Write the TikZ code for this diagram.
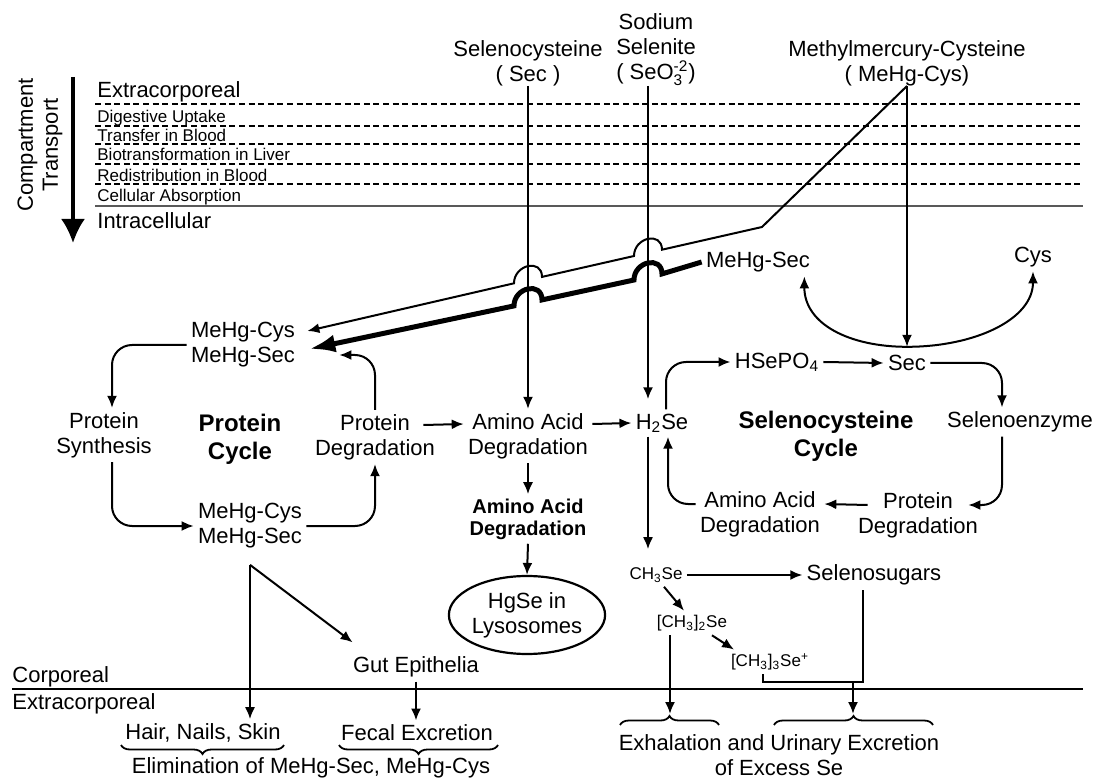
\documentclass[tikz,border=0pt]{standalone}
\usepackage{amsmath}
\usepackage{fontspec}
\setmainfont{Liberation Sans}
\usepackage{tikz}
\usetikzlibrary{shapes,arrows,arrows.meta,positioning,decorations.pathreplacing}

\tikzset{
  lbl/.style={align=center,inner sep=2pt,font=\fontsize{11}{12.5}\selectfont},
  small/.style={inner sep=2pt,font=\fontsize{8.5}{10}\selectfont},
  cyc/.style={align=center,inner sep=2pt,font=\fontsize{12}{14}\selectfont\bfseries},
  layer/.style={anchor=base west,inner sep=0pt,font=\fontsize{8.5}{10}\selectfont},
  flow/.style={->,line width=1pt},
  heavy/.style={-{Latex[length=13pt,width=9pt]},line width=2.5pt},
  sep/.style={line width=1pt,dash pattern=on 3pt off 1.8pt},
  brc/.style={decorate,decoration={brace,amplitude=4.5pt},line width=0.9pt},
}

\begin{document}
\begin{tikzpicture}[x=0.5pt,y=-0.5pt,>={Latex[length=6pt,width=5pt]}]
  \useasboundingbox (0,0) rectangle (1100,781);

  % compartments, top to bottom
  \node (comp) at (40,145) [lbl,rotate=90] {Compartment\\Transport};
  \coordinate (ctop) at (73,77);
  \coordinate (cbot) at (73,243);
  \draw[-{Latex[length=12pt,width=12pt]},line width=1.6pt] (ctop) -- (cbot);
  \node (ext) at (97,98) [lbl,anchor=base west,inner sep=0pt] {Extracorporeal};
  \foreach \y/\txt in {123/Digestive Uptake,142/Transfer in Blood,161/Biotransformation in Liver,182/Redistribution in Blood,202/Cellular Absorption}
    \node (lay\y) at (97,\y) [layer] {\txt};
  \foreach \y in {104,126,144,164,184}
    \draw[sep] (95,\y) -- (1083,\y);
  \draw[line width=1pt,black!65] (95,206) -- (1083,206);
  \node (intra) at (97,229) [lbl,anchor=base west,inner sep=0pt] {Intracellular};

  % sources
  \node (srcsec) at (528,86) [lbl,anchor=south,inner sep=0pt] {Selenocysteine\\( Sec )};
  \node (srcsel) at (656,86) [lbl,anchor=south,inner sep=0pt] {Sodium\\Selenite\\( SeO$_{\text{3}}^{\text{-2}}$)};
  \node (srcmehg) at (907,86) [lbl,anchor=south,inner sep=0pt] {Methylmercury-Cysteine\\( MeHg-Cys)};

  % protein cycle
  \node (mehgtop) at (243,345) [lbl] {MeHg-Cys\\MeHg-Sec};
  \node (psyn) at (104,435) [lbl] {Protein\\Synthesis};
  \node (pcyc) at (240,439) [cyc] {Protein\\Cycle};
  \node (pdeg) at (375,437) [lbl] {Protein\\Degradation};
  \node (mehglow) at (250,526) [lbl] {MeHg-Cys\\MeHg-Sec};
  \node (aad) at (528,436) [lbl] {Amino Acid\\Degradation};
  \node (aadb) at (528,519) [lbl,font=\fontsize{10}{11}\selectfont\bfseries] {Amino Acid\\Degradation};
  \node (hgse) at (527,615) [lbl,ellipse,draw,line width=1.1pt,inner sep=0pt,minimum width=75pt,minimum height=39pt] {HgSe in\\Lysosomes};

  % selenocysteine cycle
  \node (h2se) at (662,423) [lbl] {H\textsubscript{2}Se};
  \node (hsepo) at (777,362) [lbl] {HSePO\textsubscript{4}};
  \node (sec) at (907,363) [lbl] {Sec};
  \node (mehgr) at (758,262) [lbl] {MeHg-Sec};
  \node (cys) at (1033,257) [lbl] {Cys};
  \node (secyc) at (826,436) [cyc] {Selenocysteine\\Cycle};
  \node (senz) at (1020,422) [lbl] {Selenoenzyme};
  \node (prdeg) at (918,515) [lbl] {Protein\\Degradation};
  \node (aadr) at (760,514) [lbl] {Amino Acid\\Degradation};
  \node (ch3se) at (656,575) [small] {CH\textsubscript{3}Se};
  \node (ssug) at (874,575) [lbl] {Selenosugars};
  \node (dmse) at (692,623) [small] {[CH\textsubscript{3}]\textsubscript{2}Se};
  \node (tmse) at (770,662) [small] {[CH\textsubscript{3}]\textsubscript{3}Se\textsuperscript{+}};

  % elimination
  \node (gut) at (416,667) [lbl] {Gut Epithelia};
  \node (corp) at (12,682) [lbl,anchor=base west,inner sep=0pt] {Corporeal};
  \node (extc) at (12,709) [lbl,anchor=base west,inner sep=0pt] {Extracorporeal};
  \draw[line width=1pt] (12,689) -- (1083,689);
  \node (hair) at (203,733) [lbl] {Hair, Nails, Skin};
  \node (fecal) at (417,733) [lbl] {Fecal Excretion};
  \node (elim) at (311,768) [lbl] {Elimination of MeHg-Sec, MeHg-Cys};
  \node (exc) at (779,755) [lbl] {Exhalation and Urinary Excretion\\of Excess Se};
  \draw[brc] (284,745) -- (121,745);
  \draw[brc] (498,745) -- (339,745);
  \draw[brc] (620,725) -- (719,725);
  \draw[brc] (774,725) -- (933,725);
  \coordinate (exhtip) at (670,714);
  \coordinate (urntip) at (853,714);

  % inputs crossing the compartments
  \draw[flow] (srcsec.south) -- (aad.north);
  \draw[flow,shorten >=5pt] ([xshift=-4pt]srcsel.south) -- ([xshift=-4pt]srcsel.south |- h2se.north);
  \coordinate (secin) at ([yshift=2pt]sec.north);
  \draw[flow] (srcmehg.south) -- (secin);
  \coordinate (kink) at (762,227);
  \draw[flow] (srcmehg.south) -- (kink) -- (662,249.7)
     .. controls +(0,-18.7) and +(0,-18.7) .. (634,256) -- (542,276.9)
     .. controls +(0,-18.7) and +(0,-18.7) .. (514,283.3)
     -- ([xshift=4pt,yshift=7pt]mehgtop.east);
  \draw[heavy] (mehgr.west) -- (662,273.9)
     .. controls +(0,-18.7) and +(0,-18.7) .. (634,280) -- (542,299.9)
     .. controls +(0,-18.7) and +(0,-18.7) .. (514,305.9)
     -- ([xshift=5pt,yshift=-2pt]mehgtop.east);
  \draw[<->,line width=1pt] ([xshift=-5pt]mehgr.south east) .. controls +(0,48) and +(-57,0) .. (secin)
     .. controls +(68,0) and +(0,48) .. (cys.south);

  % protein cycle arrows
  \draw[flow,rounded corners=10pt] (mehgtop.west) -| ([xshift=4pt]psyn.north);
  \draw[flow,rounded corners=10pt] ([xshift=4pt]psyn.south) |- (mehglow.west);
  \draw[flow,rounded corners=10pt] (mehglow.east) -| (pdeg.south);
  \draw[flow,rounded corners=10pt] (pdeg.north) |- ([xshift=20pt,yshift=-5pt]mehgtop.east);
  \draw[flow] ([xshift=-8pt,yshift=6pt]pdeg.east) -- ([yshift=6pt]aad.west);
  \draw[flow] ([yshift=6pt]aad.east) -- (h2se.west);
  \draw[flow] (aad.south) -- (aadb.north);
  \draw[flow] (aadb.south) -- (hgse.north);

  % selenocysteine cycle arrows
  \draw[flow,rounded corners=10pt] ([xshift=2pt]h2se.north) |- (hsepo.west);
  \draw[flow] (hsepo.east) -- (sec.west);
  \draw[flow,rounded corners=10pt] (sec.east) -| ([xshift=-9pt]senz.north);
  \draw[flow,rounded corners=10pt] ([xshift=-9pt]senz.south) |- ([xshift=-7pt,yshift=5pt]prdeg.east);
  \draw[flow] ([xshift=7pt,yshift=5pt]prdeg.west) -- ([yshift=5pt]aadr.east);
  \draw[flow,rounded corners=10pt] ([yshift=5pt]aadr.west) -| ([xshift=3pt]h2se.south);

  % methylation and excretion
  \draw[flow,shorten >=7pt] ([xshift=-7pt]h2se.south) -- ([xshift=-7pt]h2se.south |- ch3se.north);
  \draw[flow] (ch3se.east) -- (ssug.west);
  \draw[flow] ([xshift=4pt]ch3se.south) -- ([xshift=-4pt]dmse.north);
  \draw[flow] ([xshift=10pt]dmse.south) -- ([xshift=-18pt]tmse.north);
  \draw[flow] ([xshift=-11pt]dmse.south) -- ([xshift=-11pt]dmse.south |- exhtip);
  \coordinate (join) at (853,682);
  \draw[line width=1pt] ([xshift=-3.5pt]tmse.south) |- ([xshift=-5.5pt]ssug.south |- join) -- ([xshift=-5.5pt]ssug.south);
  \draw[flow] (join) -- (join |- urntip);

  % elimination of MeHg
  \coordinate (split) at ([yshift=-6pt]mehglow.south);
  \draw[flow] (split) -- (split |- hair.north);
  \draw[flow] (split) -- ([xshift=2pt,yshift=5pt]gut.north west);
  \draw[flow] (gut.south) -- (gut.south |- fecal.north);
\end{tikzpicture}
\end{document}
